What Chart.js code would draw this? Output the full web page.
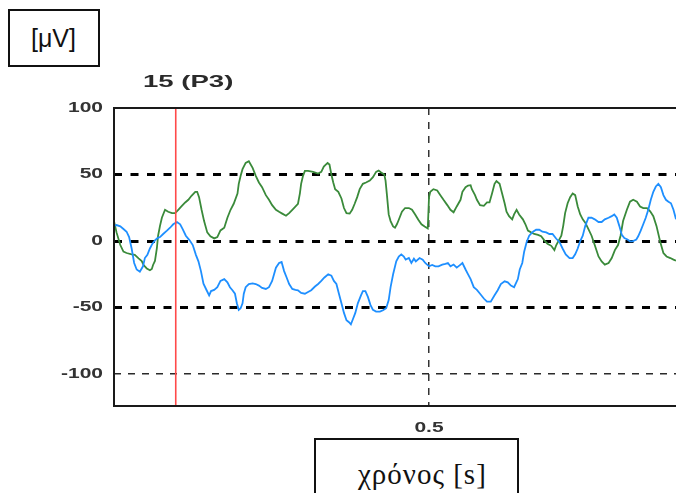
<!DOCTYPE html>
<html>
<head>
<meta charset="utf-8">
<script src="https://cdn.jsdelivr.net/npm/chart.js@4.4.1/dist/chart.umd.min.js"></script>
<style>
  html, body { margin: 0; padding: 0; background: #fff; overflow: hidden; }
  #wrap { position: relative; width: 676px; height: 493px; overflow: hidden; }
  #plot { position: absolute; left: 0; top: 0; }
  .box { position: absolute; border: 2px solid #111; box-sizing: border-box; background: #fff; color: #111; }
  #unitBox { left: 8px; top: 9px; width: 92px; height: 58px; }
  #unitBox span { position: absolute; left: 21px; top: 13px; font-family: "Liberation Sans", Arial, sans-serif; font-size: 25px; }
  #timeBox { left: 314px; top: 438px; width: 205px; height: 80px; }
  #timeBox span { position: absolute; left: 42px; top: 18px; white-space: nowrap; }
  #chanTitle { position: absolute; left: 143px; top: 72px; font-family: "Liberation Sans", Arial, sans-serif; font-size: 17px; font-weight: bold; color: #2a2a2a; transform: scaleX(1.62); transform-origin: left center; white-space: nowrap; }
</style>
</head>
<body>
<div id="wrap">
  <canvas id="plot" width="676" height="493"></canvas>
  <div class="box" id="unitBox"><span>[μV]</span></div>
  <div class="box" id="timeBox"><span style="font-family: 'Liberation Serif', serif; font-size: 29px; letter-spacing: 1px;">χρόνος [s]</span></div>
  <div id="chanTitle">15 (P3)</div>
</div>
<script>
// Channel 15 (P3): two averaged waveforms, time in ms, amplitude in µV
const greenTimeMs = [
  0,4,10,15,20,28,33,39,44,47,
  52,57,60,62,65,68,70,73,76,81,
  86,92,97,102,107,113,118,123,129,132,
  135,139,143,148,153,159,164,169,175,180,
  185,190,196,198,201,204,209,214,220,225,
  230,235,241,246,251,257,262,267,273,278,
  283,292,295,297,300,303,308,316,324,329,
  333,339,342,345,348,351,356,361,365,369,
  374,378,382,386,390,395,400,406,411,416,
  420,424,429,431,433,436,439,443,446,449,
  452,457,462,468,473,478,483,488,493,498,
  500,502,507,513,518,523,529,534,539,544,
  550,553,558,562,566,568,573,576,581,587,
  592,596,600,604,607,612,616,620,623,627,
  632,635,639,643,649,653,657,662,667,673,
  678,683,688,694,699,702,706,710,713,716,
  720,724,728,732,736,740,744,748,753,758,
  763,769,774,779,785,790,795,800,804,808,
  814,819,824,830,835,840,846,851,856,861,
  867,872,877,883,888,892
];
const greenUv = [
  15,6.5,-3,-8,-9,-10,-10.4,-13,-15,-18,
  -20.6,-22,-21,-18,-15,-5.6,4,11.4,17.5,23.5,
  22,21,21,23.5,26,29,31,34,37,37,
  33,23.5,15,6.5,3.6,2,3,8,10,17.5,
  23.5,28,35.7,43,49,54,58.7,60,55,49,
  44,40.5,34.5,31,27,23.5,22,20.6,19,21,
  23.5,28,35.7,43,49,52.7,52.7,52,50.7,52,
  56,58.7,57.5,50,44,39,37,32,24.8,21,
  20.6,23.5,28,33,39,43,44,45.4,48,52,
  53,51.5,50,45.4,35.7,20,15,11,10,12.6,
  16,22,24.8,24.8,23.5,20,16,12.6,11,9.5,
  33,37,39,38,34.5,31,27,23.5,21.6,26,
  31,37,40.5,41.7,42,39,34.5,31,27,26.5,
  29,29,35.7,43,45,43,35.7,28.4,22,18.7,
  16.3,20,23.5,20,16.3,12.6,7.8,6.5,5.3,4.6,
  3.6,0.5,-2,-3.6,-6.8,-3,0.5,4,11.4,21,
  28.4,33,35.7,34.5,26,20,16.3,13.8,9,4,
  -3,-11.6,-15.3,-17.7,-16.5,-12.8,-6.8,-3,4,15,
  23.5,29.6,31,29.6,26,24.8,24.8,22.3,18.7,11.4,
  -0.7,-9,-11.6,-12.8,-14,-14.8
];
const blueTimeMs = [
  0,4,10,15,20,24,28,32,36,41,
  46,49,53,57,61,65,69,73,78,84,
  89,94,100,105,109,114,120,125,130,134,
  138,142,147,151,154,159,164,169,175,180,
  184,188,192,195,198,201,204,206,209,214,
  220,225,230,235,241,246,251,257,262,266,
  270,274,278,283,288,292,297,303,308,313,
  319,324,329,334,340,345,349,353,357,361,
  365,369,373,376,379,383,387,392,395,399,
  403,407,411,416,422,427,432,436,439,443,
  448,452,456,460,463,468,472,476,479,485,
  490,494,500,505,510,515,521,526,530,534,
  539,544,550,553,558,562,566,571,576,581,
  587,592,598,604,609,614,620,625,630,635,
  641,644,648,651,655,659,665,670,675,680,
  686,691,696,702,707,712,717,723,728,732,
  736,740,744,748,753,758,763,769,774,779,
  785,790,794,798,802,806,810,815,819,823,
  829,832,836,840,844,848,852,856,860,864,
  868,872,876,880,884,888,892
];
const blueUv = [
  11.4,12,11,9,7,3,-5.6,-16.5,-21.4,-23,
  -19,-12.8,-10.4,-5.6,-2,0.5,2.2,3,5.3,7.8,
  10,12.6,14.3,12.6,9,4,0.5,-3,-10.4,-15.3,
  -22.6,-32,-37,-40.8,-37.6,-36.7,-34.7,-30,-28.6,-31,
  -34.7,-37,-39.6,-46.8,-51.7,-50.5,-46.8,-39.6,-34.7,-32.3,
  -31.8,-32.3,-33.5,-35.2,-36,-34.7,-30,-20,-16.5,-15.8,
  -22.6,-27.4,-32.3,-36,-36.7,-37,-39,-39.6,-38.3,-37,
  -34.2,-32.3,-30,-27.4,-25,-26,-30,-32.3,-39.6,-46.8,
  -54,-59.5,-61,-62.6,-59,-54,-46.8,-40.8,-37.6,-37.6,
  -42,-48,-51.7,-53,-53,-52,-50.5,-44.4,-34.7,-25,
  -15.3,-11.6,-10,-11.6,-14,-12.8,-16.5,-13.3,-15.3,-12.8,
  -14,-16.5,-19,-18,-19,-19,-17.7,-17.2,-16.5,-19,
  -17.7,-20,-17.7,-16.5,-21.4,-25,-28.6,-34.7,-36.7,-39.6,
  -43.2,-45.6,-45.6,-40.8,-37,-32.3,-30.3,-31,-33.5,-34.7,
  -28.6,-21.4,-16.5,-8,-0.7,4,7,8.5,8.5,7,
  6.5,5.3,5.3,1.7,-0.7,-5.6,-10,-12.8,-12.8,-10,
  -5.6,0,4,11.4,17.5,17.5,16.3,14.3,14.3,16.3,
  17.5,18.7,20,17.5,11.4,4.6,2.2,1.2,-0.2,-0.2,
  1.2,3.6,7.8,12.6,17.5,23.5,31,37,41,43,
  40.5,34.5,31,29.6,28.4,23.5,16.3
];
const markerTimeS = 0.098;          // stimulus marker
const yTickValues = [100, 50, 0, -50, -100];
const xTickValues = [0.5];
const yRange = [-124, 100];
const xRange = [0, 0.892];

const toPoints = (tMs, v) => tMs.map((t, i) => ({ x: t / 1000, y: v[i] }));

// Horizontally widened tick labels plus the plot frame
function drawWide(ctx, text, x, y, align, sx) {
  ctx.save();
  ctx.translate(x, y);
  ctx.scale(sx, 1);
  ctx.textAlign = align;
  ctx.fillText(text, 0, 0);
  ctx.restore();
}
const framePlugin = {
  id: 'frameAndLabels',
  afterDatasetsDraw(chart) {
    const { ctx, chartArea: a, scales: { x, y } } = chart;
    ctx.save();
    ctx.strokeStyle = '#1a1a1a';
    ctx.lineWidth = 2;
    ctx.beginPath();
    ctx.moveTo(a.right + 2, a.top);
    ctx.lineTo(a.left, a.top);
    ctx.lineTo(a.left, a.bottom);
    ctx.lineTo(a.right + 2, a.bottom);
    ctx.stroke();

    ctx.fillStyle = '#333';
    ctx.font = 'bold 14px "Liberation Sans", Arial, sans-serif';
    ctx.textBaseline = 'middle';
    y.ticks.forEach((t, i) => {
      drawWide(ctx, String(t.value), a.left - 11, y.getPixelForTick(i), 'right', 1.5);
    });
    x.ticks.forEach((t, i) => {
      drawWide(ctx, String(t.value), x.getPixelForTick(i), a.bottom + 22, 'center', 1.5);
    });
    ctx.restore();
  }
};

new Chart(document.getElementById('plot'), {
  type: 'scatter',
  data: {
    datasets: [
      {
        label: 'marker',
        data: [{ x: markerTimeS, y: yRange[0] }, { x: markerTimeS, y: yRange[1] }],
        showLine: true, borderColor: '#ff4a4a', borderWidth: 1.6,
        pointRadius: 0, order: 0
      },
      {
        label: 'blue',
        data: toPoints(blueTimeMs, blueUv),
        showLine: true, borderColor: '#1e8fff', borderWidth: 1.8,
        pointRadius: 0, tension: 0, order: 1
      },
      {
        label: 'green',
        data: toPoints(greenTimeMs, greenUv),
        showLine: true, borderColor: '#3a8a3a', borderWidth: 1.8,
        pointRadius: 0, tension: 0, order: 2
      }
    ]
  },
  options: {
    responsive: false,
    animation: false,
    events: [],
    layout: { padding: { top: 108, left: 0, right: 0, bottom: 0 } },
    plugins: { legend: { display: false }, title: { display: false }, tooltip: { enabled: false } },
    scales: {
      x: {
        type: 'linear', min: xRange[0], max: xRange[1],
        afterBuildTicks: s => { s.ticks = xTickValues.map(v => ({ value: v })); },
        afterFit: s => { s.height = 87; },
        ticks: { display: false },
        grid: { color: '#333', lineWidth: 1.5, drawTicks: false },
        border: { display: false, dash: [7, 7] }
      },
      y: {
        type: 'linear', min: yRange[0], max: yRange[1],
        afterBuildTicks: s => { s.ticks = yTickValues.map(v => ({ value: v })); },
        afterFit: s => { s.width = 114; },
        ticks: { display: false },
        grid: {
          drawTicks: false,
          color: c => (c.tick && c.tick.value === 100) ? 'rgba(0,0,0,0)' : (c.tick && c.tick.value === -100 ? '#2a2a2a' : '#000'),
          lineWidth: c => (c.tick && Math.abs(c.tick.value) === 100) ? 1.5 : 3
        },
        border: {
          display: false,
          dash: c => (c.tick && c.tick.value === -100) ? [7, 7] : [8, 8.5]
        }
      }
    }
  },
  plugins: [framePlugin]
});
</script>
</body>
</html>
